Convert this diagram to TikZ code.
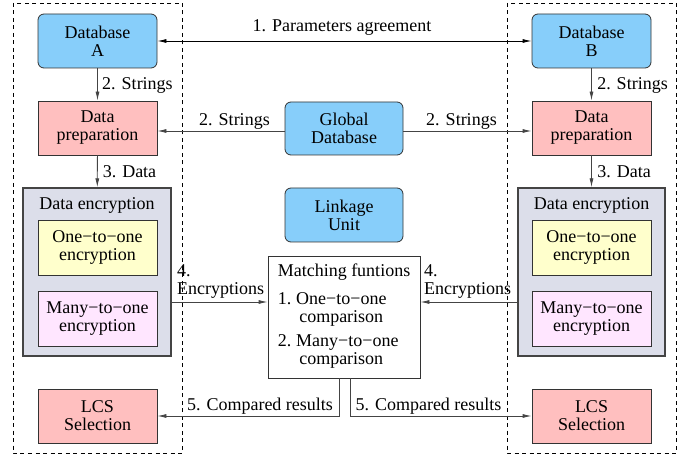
\documentclass[tikz,border=0pt]{standalone}
\usepackage{fontspec}
\setmainfont{Liberation Serif}
\usetikzlibrary{arrows.meta}
\definecolor{dbblue}{HTML}{87CEFA}
\definecolor{prepink}{HTML}{FFBFBF}
\definecolor{encgray}{HTML}{DCDEEA}
\definecolor{oneyel}{HTML}{FFFFCC}
\definecolor{manylav}{HTML}{FFE6FF}
\definecolor{edge}{HTML}{333333}
\definecolor{conn}{HTML}{444444}
\begin{document}
\begin{tikzpicture}[x=1pt,y=-1pt,
  font=\rmfamily\fontsize{18}{18}\selectfont,
  box/.style={draw=edge,line width=0.8pt,minimum width=119pt,minimum height=54pt,align=center,inner sep=1pt},
  dbbox/.style={box,fill=dbblue,rounded corners=6pt},
  prepbox/.style={box,fill=prepink},
  encbox/.style={draw=conn,line width=1.3pt,fill=encgray,minimum width=148pt,minimum height=168pt},
  onebox/.style={box,fill=oneyel,minimum height=55pt},
  manybox/.style={box,fill=manylav,minimum height=55pt},
  arr/.style={draw=conn,line width=0.8pt,-{Latex[length=9pt,width=4pt]}},
  dualarr/.style={draw=black,line width=0.8pt,{Latex[length=9pt,width=4pt]}-{Latex[length=9pt,width=4pt]}},
  lbl/.style={inner sep=0pt},
  region/.style={draw=black,line width=0.8pt,dash pattern=on 4pt off 3.5pt}
]
\useasboundingbox (0,0) rectangle (688,457);
% dashed party regions
\draw[region] (13,3) rectangle (182,453);
\draw[region] (507,3) rectangle (676,453);

% party A
\node[dbbox] (dbA) at (97.5,41) {Database\\A};
\node[prepbox] (prepA) at (97.5,128) {Data\\preparation};
\node[encbox] (encA) at (97,272) {};
\node[lbl] (encAt) at (97,205.5) {Data encryption};
\node[onebox] (oneA) at (97.5,247.5) {One\textminus to\textminus one\\encryption};
\node[manybox] (manyA) at (97.5,318.5) {Many\textminus to\textminus one\\encryption};
\node[prepbox] (lcsA) at (97.5,416) {LCS\\Selection};

% party B
\node[dbbox] (dbB) at (591.5,41) {Database\\B};
\node[prepbox] (prepB) at (591.5,128) {Data\\preparation};
\node[encbox,minimum width=147pt] (encB) at (591.5,272) {};
\node[lbl] (encBt) at (591.5,205.5) {Data encryption};
\node[onebox] (oneB) at (591.5,247.5) {One\textminus to\textminus one\\encryption};
\node[manybox] (manyB) at (591.5,318.5) {Many\textminus to\textminus one\\encryption};
\node[prepbox] (lcsB) at (591.5,416) {LCS\\Selection};

% centre
\node[dbbox,minimum width=118pt,minimum height=53pt] (glob) at (344,128.5) {Global\\Database};
\node[dbbox,minimum width=118pt] (link) at (344,215) {Linkage\\Unit};
\node[draw=edge,line width=0.8pt,fill=white,minimum width=152pt,minimum height=122pt,inner sep=0pt] (match) at (344,317)
  {\begin{tabular}{@{}r@{\hspace{5pt}}l@{}}
   \multicolumn{2}{@{}c@{}}{Matching funtions}\\[10pt]
   1. & One\textminus to\textminus one\\
      & \hspace{3pt}comparison\\[6pt]
   2. & Many\textminus to\textminus one\\
      & \hspace{3pt}comparison
   \end{tabular}};

% connectors
\draw[dualarr] (dbA.east) -- (dbB.west);
\node[lbl] (l1) at (342,28) {1. Parameters agreement};

\draw[arr] (dbA) -- (prepA);
\node[lbl] (l2a) at (137.5,85) {2. Strings};
\draw[arr] (dbB) -- (prepB);
\node[lbl] (l2b) at (632.5,85) {2. Strings};

\draw[arr] ([yshift=-2.5pt]glob.west) -- ([yshift=-2.5pt]glob.west -| prepA.east);
\node[lbl] (l2c) at (234.5,121) {2. Strings};
\draw[arr] ([yshift=-2.5pt]glob.east) -- ([yshift=-2.5pt]glob.east -| prepB.west);
\node[lbl] (l2d) at (461.5,121) {2. Strings};

\draw[arr] (prepA) -- (encA);
\node[lbl] (l3a) at (129.5,171.5) {3. Data};
\draw[arr] (prepB) -- (encB);
\node[lbl] (l3b) at (624,171.5) {3. Data};

\draw[arr] ([yshift=-30pt]encA.east) -- ([yshift=-30pt]encA.east -| match.west);
\node[lbl,anchor=west,align=left] (l4a) at (177,281.5) {4.\\Encryptions};
\draw[arr] ([yshift=-30pt]encB.west) -- ([yshift=-30pt]encB.west -| match.east);
\node[lbl,anchor=west,align=left] (l4b) at (424,281.5) {4.\\Encryptions};

\draw[arr] ([xshift=-5pt]match.south) |- (lcsA.east);
\node[lbl] (l5a) at (260,406.5) {5. Compared results};
\draw[arr] ([xshift=6pt]match.south) |- (lcsB.west);
\node[lbl] (l5b) at (428.5,406.5) {5. Compared results};
\end{tikzpicture}
\end{document}
